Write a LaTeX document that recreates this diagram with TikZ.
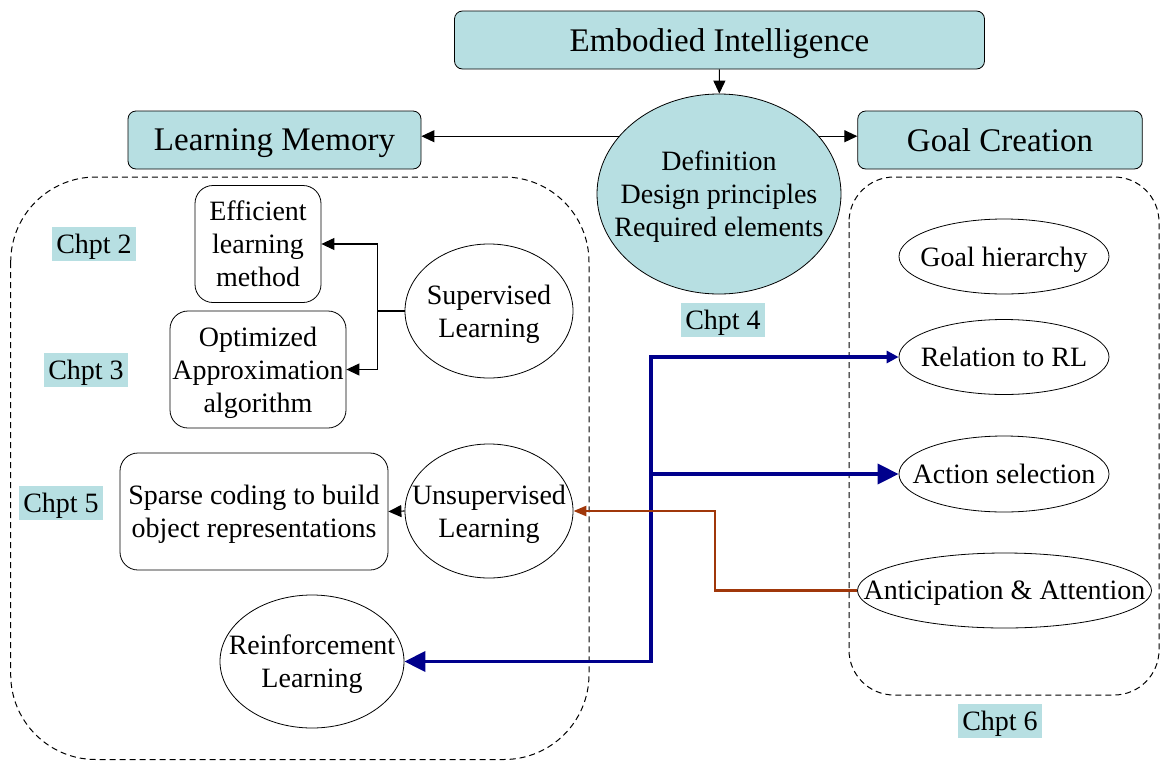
\documentclass[tikz,border=0pt]{standalone}
\usepackage{fontspec}
\setmainfont{Liberation Serif}
\usepackage{tikz}
\usetikzlibrary{shapes.geometric,arrows.meta,positioning}

\definecolor{chptcyan}{RGB}{183,223,226}
\definecolor{rlblue}{RGB}{0,0,140}
\definecolor{attbrown}{RGB}{160,55,10}

\begin{document}
\begin{tikzpicture}[
    x=1pt, y=-1pt, line width=0.8pt,
    font=\fontsize{28}{33}\selectfont,
    every node/.append style={text depth=0pt},
    topbox/.style={rectangle, rounded corners=8pt, draw, fill=chptcyan, inner sep=0pt, minimum height=58pt, font=\fontsize{33}{40}\selectfont},
    sbox/.style={rectangle, rounded corners=18pt, draw, align=center, inner sep=0pt, minimum height=117pt},
    oval/.style={ellipse, draw, inner sep=0pt},
    chpt/.style={rectangle, fill=chptcyan, inner sep=0pt, minimum width=84pt, minimum height=34pt},
    group/.style={draw, line width=1pt, dash pattern=on 6pt off 4pt, rounded corners=#1},
    arrow/.style={-{Triangle[length=13pt,width=12pt]}, line width=1.1pt},
    bluearrow/.style={-{Triangle[length=21pt,width=20pt]}, line width=3.6pt, draw=rlblue},
    brownarrow/.style={-{Triangle[length=13pt,width=10pt]}, line width=2.5pt, draw=attbrown}
]
\useasboundingbox (0,0) rectangle (1160,761);

% group frames
\draw[group=85pt] (10.7,177) rectangle (589,759.5);
\draw[group=45pt] (849,177) rectangle (1159,695);

% top row
\node[topbox, minimum width=530pt] (ei) at (719.5,40) {Embodied Intelligence};
\node[oval, fill=chptcyan, minimum width=244pt, minimum height=200pt,
      label={[align=center]center:Definition\\Design principles\\Required elements}] (def) at (719,194) {};
\node[topbox, minimum width=293pt] (lm) at (274.5,140) {Learning Memory};
\node[topbox, minimum width=284.5pt] (gc) at (1000,140) {Goal Creation};
\node[chpt] (c4) at (723,320) {Chpt 4};

% learning memory
\node[sbox, minimum width=126pt] (eff) at (258,244) {Efficient\\learning\\method};
\node[sbox, minimum width=176pt] (opt) at (258,369.5) {Optimized\\Approximation\\algorithm};
\node[sbox, minimum width=268pt] (sparse) at (254,511.5) {Sparse coding to build\\object representations};
\node[oval, minimum width=168pt, minimum height=134pt,
      label={[align=center]center:Supervised\\Learning}] (sup) at (489,311) {};
\node[oval, minimum width=168pt, minimum height=134pt,
      label={[align=center]center:Unsupervised\\Learning}] (unsup) at (489,511) {};
\node[oval, minimum width=184pt, minimum height=133pt,
      label={[align=center]center:Reinforcement\\Learning}] (rl) at (312,661.5) {};
\node[chpt] (c2) at (94,244) {Chpt 2};
\node[chpt] (c3) at (86,370) {Chpt 3};
\node[chpt] (c5) at (61,502.5) {Chpt 5};

% goal creation
\node[oval, minimum width=210pt, minimum height=75pt, label={center:Goal hierarchy}] (hier) at (1004,256.5) {};
\node[oval, minimum width=210pt, minimum height=75pt, label={center:Relation to RL}] (rel) at (1004,357) {};
\node[oval, minimum width=210pt, minimum height=76pt, label={center:Action selection}] (act) at (1004,474) {};
\node[oval, minimum width=294pt, minimum height=75pt, label={center:Anticipation \& Attention}] (ant) at (1004.5,590.5) {};
\node[chpt] (c6) at (1000,721) {Chpt 6};

\coordinate (split) at (377.7,311);
\coordinate (bus) at (651,474);
\coordinate (turn) at (715,511);

\draw[arrow] (ei) -- (def);
\draw[arrow] (def.150) -- (def.150 -| lm.east);
\draw[arrow] (def.30) -- (def.30 -| gc.west);
\draw[arrow] (sup.west) -- (split) |- (eff.east);
\draw[arrow] (split) |- (opt.east);
\draw[arrow] (unsup.west) -- (sparse.east);

\draw[bluearrow, -{Triangle[length=12pt,width=12pt]}] (bus) |- (rel.west);
\draw[bluearrow] (bus) -- (act.west);
\draw[bluearrow] (bus) |- (rl.east);
\draw[brownarrow] (ant.west) -| (turn) -- (unsup.east);
\end{tikzpicture}
\end{document}
